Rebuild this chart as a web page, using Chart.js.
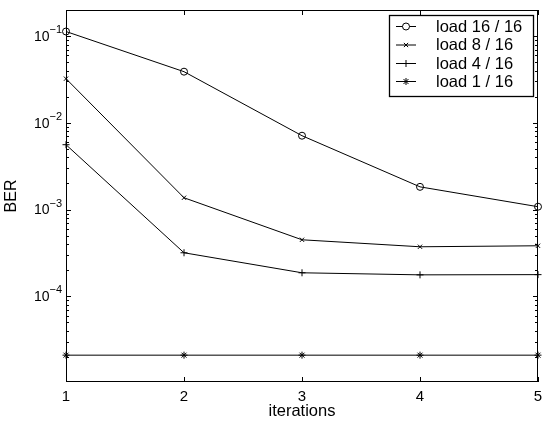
<!DOCTYPE html>
<html>
<head>
<meta charset="utf-8">
<script src="https://cdn.jsdelivr.net/npm/chart.js@4"></script>
<style>
html,body{margin:0;padding:0;background:#fff;}
canvas{display:block;}
</style>
</head>
<body>
<canvas id="c" width="543" height="423"></canvas>
<script>
const iterations = [1, 2, 3, 4, 5];
const load16 = [0.113, 0.0389, 0.00711, 0.00183, 0.00108];
const load8  = [0.0323, 0.00137, 0.000449, 0.000373, 0.000383];
const load4  = [0.0056, 0.000318, 0.000187, 0.000177, 0.000178];
const load1  = [2.1e-5, 2.1e-5, 2.1e-5, 2.1e-5, 2.1e-5];
const seriesLabels = ['load 16 / 16', 'load 8 / 16', 'load 4 / 16', 'load 1 / 16'];
const yTickExps = [-1, -2, -3, -4];
const xTicks = [1, 2, 3, 4, 5];

const FONT = 'Liberation Sans, Arial, Helvetica, sans-serif';
const styles = ['circle', 'crossRot', 'cross', 'star'];
const radii = [3.5, 3, 3.5, 3.5];
const allSeries = [load16, load8, load4, load1];

const datasets = allSeries.map((s, i) => ({
  label: seriesLabels[i],
  data: iterations.map((x, j) => ({x: x, y: s[j]})),
  borderColor: '#000',
  borderWidth: 1,
  pointStyle: styles[i],
  pointRadius: radii[i],
  pointBorderColor: '#000',
  pointBackgroundColor: 'rgba(0,0,0,0)',
  pointBorderWidth: 1,
  tension: 0,
  clip: false,
  fill: false
}));

const decorPlugin = {
  id: 'decor',
  afterDatasetsDraw(chart) {
    const ctx = chart.ctx;
    const a = chart.chartArea;
    const xs = chart.scales.x, ys = chart.scales.y;
    ctx.save();
    ctx.strokeStyle = '#000';
    ctx.lineWidth = 1;
    ctx.strokeRect(Math.round(a.left) + 0.5, Math.round(a.top) + 0.5,
                   Math.round(a.right - a.left) - 1, Math.round(a.bottom - a.top) - 1);
    ctx.beginPath();
    xTicks.forEach(v => {
      const px = Math.round(xs.getPixelForValue(v)) + 0.5;
      ctx.moveTo(px, a.bottom); ctx.lineTo(px, a.bottom - 5);
      ctx.moveTo(px, a.top); ctx.lineTo(px, a.top + 5);
    });
    for (let n = -6; n <= 0; n++) {
      for (let k = 1; k <= 9; k++) {
        const v = k * Math.pow(10, n);
        if (v < ys.min || v > ys.max) continue;
        const py = Math.round(ys.getPixelForValue(v)) + 0.5;
        const len = k === 1 ? 5 : 3;
        ctx.moveTo(a.left, py); ctx.lineTo(a.left + len, py);
        ctx.moveTo(a.right, py); ctx.lineTo(a.right - len, py);
      }
    }
    ctx.stroke();
    ctx.fillStyle = '#000';
    yTickExps.forEach(e => {
      const py = ys.getPixelForValue(Math.pow(10, e));
      const supTxt = '\u2212' + String(-e);
      ctx.font = '11px ' + FONT;
      const supW = ctx.measureText(supTxt).width;
      const rightEdge = a.left - 4;
      ctx.textBaseline = 'middle';
      ctx.textAlign = 'left';
      ctx.fillText(supTxt, rightEdge - supW, py - 6);
      ctx.font = '14px ' + FONT;
      ctx.textAlign = 'right';
      ctx.fillText('10', rightEdge - supW, py + 1);
    });
    ctx.restore();
  },
  afterDraw(chart) {
    const ctx = chart.ctx;
    ctx.save();
    const bx = 389.5, by = 15.5, bw = 144, bh = 81;
    ctx.fillStyle = '#fff';
    ctx.fillRect(bx, by, bw, bh);
    ctx.strokeStyle = '#000';
    ctx.lineWidth = 1.3;
    ctx.strokeRect(bx, by, bw, bh);
    const rows = [26, 44.5, 63, 81];
    chart.data.datasets.forEach((ds, i) => {
      const y = rows[i];
      ctx.lineWidth = 1;
      ctx.strokeStyle = '#000';
      ctx.beginPath();
      ctx.moveTo(396, y + 0.5); ctx.lineTo(416, y + 0.5);
      ctx.stroke();
      Chart.helpers.drawPoint(ctx, {
        pointStyle: ds.pointStyle, radius: ds.pointRadius, borderWidth: 1, rotation: 0
      }, 406, y + 0.5);
      ctx.fillStyle = '#000';
      ctx.font = '16.5px ' + FONT;
      ctx.textAlign = 'left';
      ctx.textBaseline = 'middle';
      ctx.fillText(ds.label, 436, y + 1);
    });
    ctx.restore();
  }
};

new Chart(document.getElementById('c'), {
  type: 'line',
  data: { datasets: datasets },
  options: {
    responsive: false,
    animation: false,
    devicePixelRatio: 1,
    layout: { padding: { left: 0, top: 10, right: 4, bottom: 0 } },
    plugins: { legend: { display: false }, tooltip: { enabled: false } },
    scales: {
      x: {
        type: 'linear', min: 1, max: 5,
        afterBuildTicks(scale) { scale.ticks = xTicks.map(v => ({value: v})); },
        afterFit(scale) { scale.height = 41; scale.paddingLeft = 0; scale.paddingRight = 0; },
        ticks: { color: '#000', font: { family: FONT, size: 15 }, padding: 6, maxRotation: 0,
                 callback: v => String(v) },
        grid: { display: false, drawTicks: false },
        border: { display: false },
        title: { display: true, text: 'iterations', color: '#000',
                 font: { family: FONT, size: 16.5 }, padding: { top: 0, bottom: 2 } }
      },
      y: {
        type: 'logarithmic', min: 1.03e-5, max: 0.2,
        afterFit(scale) { scale.width = 66; },
        ticks: { display: false },
        grid: { display: false, drawTicks: false },
        border: { display: false },
        title: { display: true, text: 'BER', color: '#000',
                 font: { family: FONT, size: 16 }, padding: { top: 2, bottom: 0 } }
      }
    }
  },
  plugins: [decorPlugin]
});
</script>
</body>
</html>
